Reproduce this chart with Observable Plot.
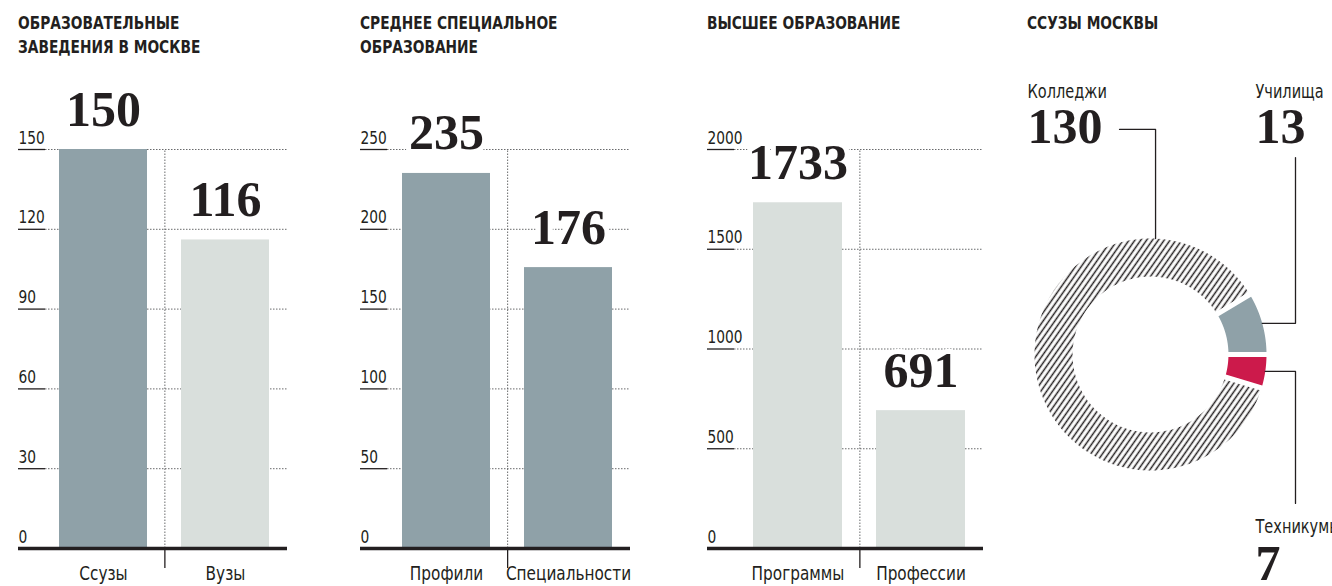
<!DOCTYPE html>
<html>
<head>
<meta charset="utf-8">
<script src="https://cdn.jsdelivr.net/npm/d3@7"></script>
<script src="https://cdn.jsdelivr.net/npm/@observablehq/plot@0.6"></script>
<style>
  html, body { margin: 0; padding: 0; background: #fff; overflow: hidden; }
  #root { position: relative; width: 1332px; height: 586px; }
  .title {
    position: absolute; top: 11px;
    font-family: "Liberation Sans Narrow", "DejaVu Sans Condensed", "Arial Narrow", sans-serif;
    font-stretch: condensed; font-weight: bold; font-size: 18px; line-height: 24px;
    color: #231f20; white-space: pre-line;
    transform: scaleX(0.85); transform-origin: 0 0;
  }
  .panel { position: absolute; top: 70px; }
  .panel svg { overflow: visible; }
</style>
</head>
<body>
<div id="root"></div>
<script>
// ---------- data ----------
const titles = [
  "ОБРАЗОВАТЕЛЬНЫЕ\nЗАВЕДЕНИЯ В МОСКВЕ",
  "СРЕДНЕЕ СПЕЦИАЛЬНОЕ\nОБРАЗОВАНИЕ",
  "ВЫСШЕЕ ОБРАЗОВАНИЕ",
  "ССУЗЫ МОСКВЫ"
];
const institutionTypes = ["Ссузы", "Вузы"];
const institutionCounts = [150, 116];
const institutionTicks = [0, 30, 60, 90, 120, 150];

const secondaryItems = ["Профили", "Специальности"];
const secondaryCounts = [235, 176];
const secondaryTicks = [0, 50, 100, 150, 200, 250];

const higherItems = ["Программы", "Профессии"];
const higherCounts = [1733, 691];
const higherTicks = [0, 500, 1000, 1500, 2000];

const collegeTypes = ["Колледжи", "Училища", "Техникумы"];
const collegeCounts = [130, 13, 7];

// ---------- styles / layout ----------
const INK = "#231f20";
const GRID = "#58595b";
const GRAY = "#8fa1a8";
const LIGHT = "#d9dfdc";
const RED = "#cc1a4b";
const SANS = '"Liberation Sans Narrow", "DejaVu Sans Condensed", "Arial Narrow", sans-serif';
const SERIF = '"Liberation Serif", "DejaVu Serif", serif';
const CONDENSE = 0.85;
const titleLefts = [18, 360, 707, 1027];

const barPanels = [
  {cats: institutionTypes, vals: institutionCounts, ticks: institutionTicks, fills: [GRAY, LIGHT], left: 18, right: 287, bandLeft: 41},
  {cats: secondaryItems, vals: secondaryCounts, ticks: secondaryTicks, fills: [GRAY, GRAY], left: 360, right: 630, bandLeft: 385},
  {cats: higherItems, vals: higherCounts, ticks: higherTicks, fills: [LIGHT, LIGHT], left: 707, right: 983, bandLeft: 735}
];

const root = document.getElementById("root");

titles.forEach((t, i) => {
  const d = document.createElement("div");
  d.className = "title";
  d.style.left = titleLefts[i] + "px";
  d.textContent = t;
  root.appendChild(d);
});

// narrow the sans-serif labels (the original uses a condensed face)
function condense(svg) {
  svg.querySelectorAll("g[aria-label='text'] text").forEach(t => {
    const g = t.closest("g[aria-label='text']");
    if (g && g.getAttribute("font-weight") === "bold") return;
    const len = t.getComputedTextLength();
    if (len > 0) {
      t.setAttribute("textLength", (len * CONDENSE).toFixed(2));
      t.setAttribute("lengthAdjust", "spacingAndGlyphs");
    }
  });
}

function barPanel(p) {
  const fw = p.right - p.left;
  const width = fw + 14;
  const PIN = 0.276, POUT = 0.14;
  const r0 = p.bandLeft - p.left, r1 = fw;
  const step = (r1 - r0) / (p.cats.length - PIN + 2 * POUT);
  const data = p.cats.map((c, i) => ({cat: c, value: p.vals[i], fill: p.fills[i]}));
  const yMax = d3.max(p.ticks);
  const grid = p.ticks.filter(t => t > 0);
  return Plot.plot({
    width, height: 516,
    marginLeft: 0, marginRight: width - fw, marginTop: 79, marginBottom: 38,
    style: {fontFamily: SANS, color: INK, background: "transparent", overflow: "visible"},
    x: {type: "band", domain: p.cats, range: [r0, r1], paddingInner: PIN, paddingOuter: POUT, axis: null},
    y: {domain: [0, yMax], axis: null},
    color: {type: "identity"},
    marks: [
      Plot.ruleY(grid, {stroke: GRID, strokeWidth: 0.9, strokeDasharray: "1.5,1.5", insetLeft: 27}),
      Plot.ruleY(grid, {stroke: INK, strokeWidth: 1.3, insetRight: fw - 27}),
      Plot.barY(data, {x: "cat", y: "value", fill: "fill"}),
      Plot.ruleX([p.cats[0]], {y1: 0, y2: yMax, dx: step / 2, stroke: GRID, strokeWidth: 0.9, strokeDasharray: "1.5,1.5"}),
      Plot.ruleX([p.cats[0]], {y1: 0, y2: 0, insetBottom: -20, dx: step / 2, stroke: INK, strokeWidth: 1.3}),
      Plot.ruleY([0], {stroke: INK, strokeWidth: 3.4}),
      Plot.text(p.ticks, {y: d => d, text: d => String(d), frameAnchor: "left", textAnchor: "start", lineAnchor: "bottom", dy: -6, fontSize: 18, fill: INK}),
      Plot.text(data, {x: "cat", y: "value", text: d => String(d.value), dy: -24, lineAnchor: "bottom",
        fontFamily: SERIF, fontWeight: "bold", fontSize: 50, fill: INK, stroke: "white", strokeWidth: 10, paintOrder: "stroke"}),
      Plot.text(data, {x: "cat", text: "cat", frameAnchor: "bottom", lineAnchor: "bottom", dy: 31, fontSize: 20, fill: INK})
    ]
  });
}

barPanels.forEach(p => {
  const div = document.createElement("div");
  div.className = "panel";
  div.style.left = p.left + "px";
  const svg = barPanel(p);
  div.appendChild(svg);
  root.appendChild(div);
  condense(svg);
});

// ---------- donut ----------
function donutPanel() {
  const width = 322, height = 516;
  const order = ["Техникумы", "Колледжи", "Училища"];
  const data = collegeTypes.map((n, i) => ({name: n, value: collegeCounts[i]}));
  const arcs = d3.pie()
    .sort((a, b) => order.indexOf(a.name) - order.indexOf(b.name))
    .value(d => d.value)
    .startAngle(Math.PI / 2).endAngle(Math.PI * 2.5)(data);

  const RO = 1, RI = 0.672, G = 2.6 / 116;
  const pts = [];
  for (const a of arcs) {
    const name = a.data.name;
    const n = 160;
    const o0 = a.startAngle + Math.asin(G / RO), o1 = a.endAngle - Math.asin(G / RO);
    const i0 = a.startAngle + Math.asin(G / RI), i1 = a.endAngle - Math.asin(G / RI);
    for (let k = 0; k <= n; k++) { const t = o0 + (o1 - o0) * k / n; pts.push({name, x: RO * Math.sin(t), y: RO * Math.cos(t)}); }
    for (let k = n; k >= 0; k--) { const t = i0 + (i1 - i0) * k / n; pts.push({name, x: RI * Math.sin(t), y: RI * Math.cos(t)}); }
  }
  const fills = {"Колледжи": "url(#hatchPattern)", "Училища": GRAY, "Техникумы": RED};
  const arcBy = Object.fromEntries(arcs.map(a => [a.data.name, a]));
  const mid = a => (a.startAngle + a.endAngle) / 2;

  const elbowX = 1.25;
  const collegeAttach = 2.5 * Math.PI / 180;
  const mU = mid(arcBy["Училища"]), mT = mid(arcBy["Техникумы"]);
  const leaders = [
    {name: "Колледжи", x: -0.267, y: 1.94},
    {name: "Колледжи", x: Math.sin(collegeAttach), y: 1.94},
    {name: "Колледжи", x: Math.sin(collegeAttach), y: Math.cos(collegeAttach)},
    {name: "Училища", x: elbowX, y: 1.698},
    {name: "Училища", x: elbowX, y: Math.cos(mU)},
    {name: "Училища", x: Math.sin(mU), y: Math.cos(mU)},
    {name: "Техникумы", x: Math.sin(mT), y: Math.cos(mT)},
    {name: "Техникумы", x: elbowX, y: Math.cos(mT)},
    {name: "Техникумы", x: elbowX, y: -1.284}
  ];
  const labelPos = {
    "Колледжи": {x: -1.06, nameY: 2.21, valueY: 1.819},
    "Училища": {x: 0.905, nameY: 2.21, valueY: 1.819},
    "Техникумы": {x: 0.905, nameY: -1.543, valueY: -1.945}
  };
  const labels = data.map(d => ({...d, ...labelPos[d.name]}));

  const svg = Plot.plot({
    width, height,
    style: {fontFamily: SANS, color: INK, background: "transparent", overflow: "visible"},
    x: {domain: [-1, 1], range: [24, 256], axis: null},
    y: {domain: [-1, 1], range: [400, 168], axis: null},
    marks: [
      ...collegeTypes.map(name => Plot.line(pts.filter(p => p.name === name), {x: "x", y: "y", fill: fills[name], stroke: "none"})),
      Plot.line(leaders, {x: "x", y: "y", z: "name", stroke: INK, strokeWidth: 1.3}),
      Plot.text(labels, {x: "x", y: "nameY", text: "name", textAnchor: "start", lineAnchor: "bottom", fontSize: 19, fill: INK}),
      Plot.text(labels, {x: "x", y: "valueY", text: d => String(d.value), textAnchor: "start", lineAnchor: "bottom",
        fontFamily: SERIF, fontWeight: "bold", fontSize: 50, fill: INK})
    ]
  });
  const defs = document.createElementNS("http://www.w3.org/2000/svg", "defs");
  defs.innerHTML = '<pattern id="hatchPattern" patternUnits="userSpaceOnUse" width="4.8" height="4.8" patternTransform="rotate(35)">' +
    '<line x1="2.4" y1="-1" x2="2.4" y2="5.8" stroke="' + INK + '" stroke-width="1.5"/></pattern>';
  svg.insertBefore(defs, svg.firstChild);
  return svg;
}

const dDiv = document.createElement("div");
dDiv.className = "panel";
dDiv.style.left = "1010px";
const donutSvg = donutPanel();
dDiv.appendChild(donutSvg);
root.appendChild(dDiv);
condense(donutSvg);
</script>
</body>
</html>
